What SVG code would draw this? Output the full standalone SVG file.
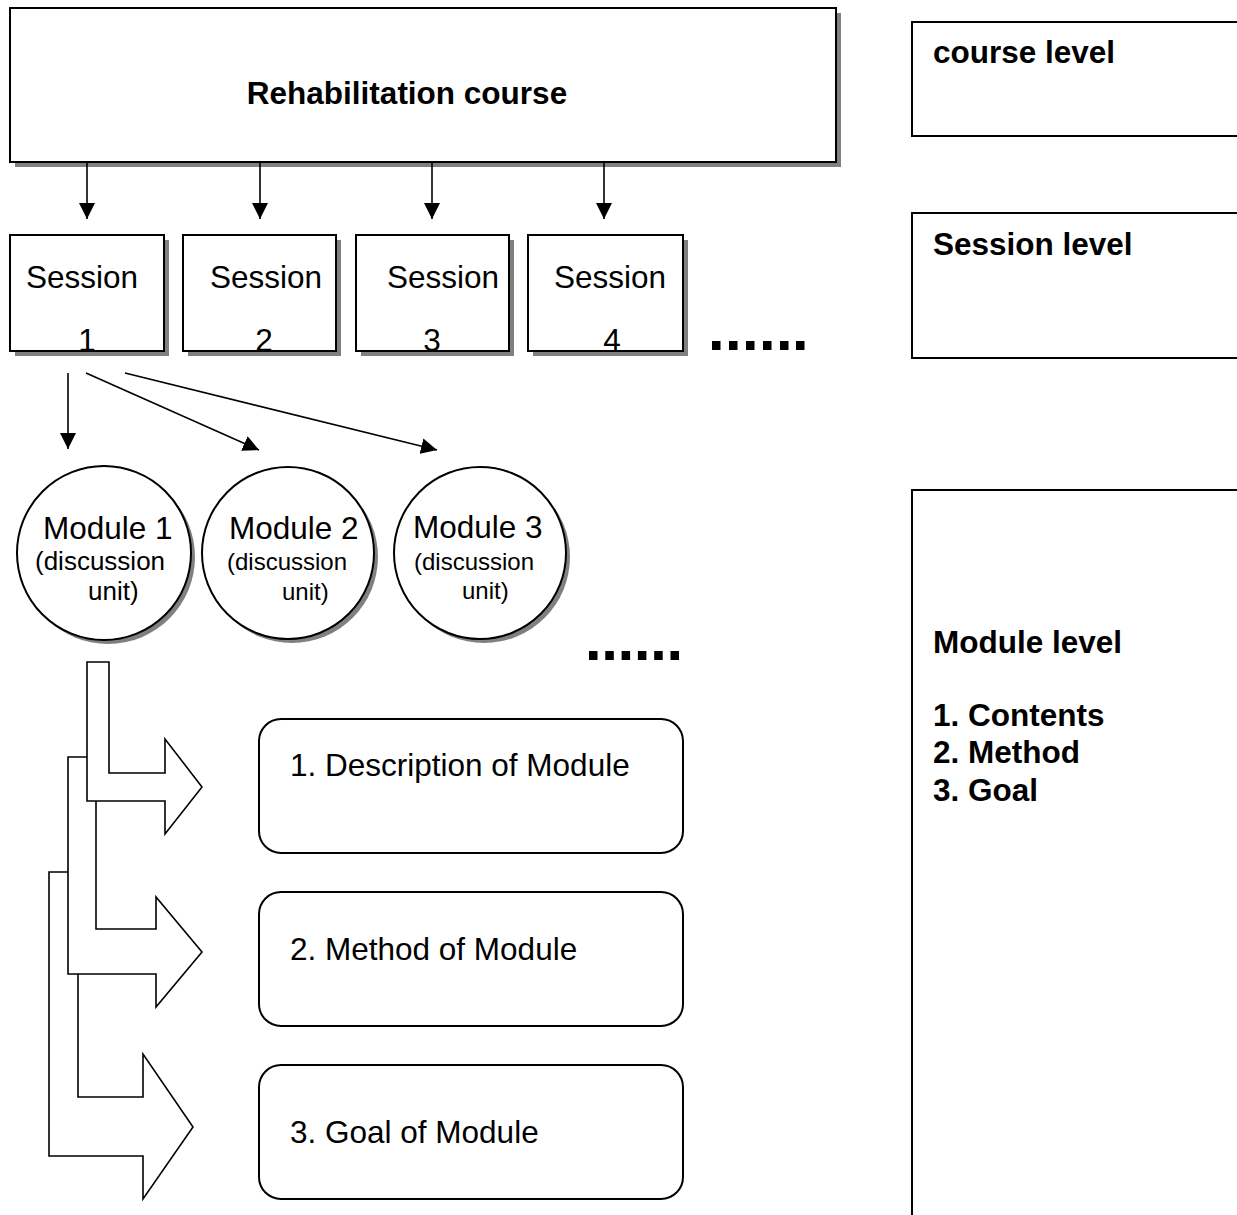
<svg xmlns="http://www.w3.org/2000/svg" width="1237" height="1215" viewBox="0 0 1237 1215">
<style>
.box{fill:#fff;stroke:#000;stroke-width:2}
.shadow{fill:#808080;stroke:none}
.conn{stroke:#000;stroke-width:1.6;fill:none}
.blk{fill:#fff;stroke:#000;stroke-width:1.6;stroke-linejoin:miter}
.t{font-family:"Liberation Sans",Arial,sans-serif;font-size:31.5px;fill:#000}
.b{font-weight:bold}
.s{font-size:24px}
.dot{fill:#000}
</style>
<defs>
<marker id="ah" markerUnits="userSpaceOnUse" markerWidth="16" markerHeight="16" viewBox="0 0 16 16" refX="16" refY="8" orient="auto">
<path d="M0,0 L16,8 L0,16 Z" fill="#000"/>
</marker>
</defs>
<rect width="1237" height="1215" fill="#fff"/>

<g id="course">
<rect class="shadow" x="15" y="13" width="826" height="154"/>
<rect class="box" x="10" y="8" width="826" height="154"/>
<text class="t b" x="407" y="104" text-anchor="middle">Rehabilitation course</text>
</g>

<g id="session1">
<rect class="shadow" x="15" y="240" width="154" height="116"/>
<rect class="box" x="10" y="235" width="154" height="116"/>
<text class="t" x="26" y="288">Session</text>
<text class="t" x="87" y="351" text-anchor="middle">1</text>
</g>
<g id="session2">
<rect class="shadow" x="188" y="240" width="153" height="116"/>
<rect class="box" x="183" y="235" width="153" height="116"/>
<text class="t" x="210" y="288">Session</text>
<text class="t" x="264" y="351" text-anchor="middle">2</text>
</g>
<g id="session3">
<rect class="shadow" x="361" y="240" width="153" height="116"/>
<rect class="box" x="356" y="235" width="153" height="116"/>
<text class="t" x="387" y="288">Session</text>
<text class="t" x="432" y="351" text-anchor="middle">3</text>
</g>
<g id="session4">
<rect class="shadow" x="533" y="240" width="155" height="116"/>
<rect class="box" x="528" y="235" width="155" height="116"/>
<text class="t" x="554" y="288">Session</text>
<text class="t" x="612" y="351" text-anchor="middle">4</text>
</g>

<g id="dots1">
<rect class="dot" x="712" y="341" width="8.5" height="9"/>
<rect class="dot" x="729" y="341" width="8.5" height="9"/>
<rect class="dot" x="746" y="341" width="8.5" height="9"/>
<rect class="dot" x="763" y="341" width="8.5" height="9"/>
<rect class="dot" x="780" y="341" width="8.5" height="9"/>
<rect class="dot" x="796" y="341" width="8.5" height="9"/>
</g>

<g id="module1">
<circle class="shadow" cx="108" cy="557" r="87"/>
<circle class="box" cx="104" cy="553" r="87"/>
<text class="t" x="43" y="539">Module 1</text>
<text class="t" x="35" y="570" style="font-size:26px">(discussion</text>
<text class="t" x="88" y="600" style="font-size:26px">unit)</text>
</g>
<g id="module2">
<circle class="shadow" cx="292" cy="557" r="86"/>
<circle class="box" cx="288" cy="553" r="86"/>
<text class="t" x="229" y="539">Module 2</text>
<text class="t s" x="227" y="570">(discussion</text>
<text class="t s" x="282" y="600">unit)</text>
</g>
<g id="module3">
<circle class="shadow" cx="484" cy="557" r="86"/>
<circle class="box" cx="480" cy="553" r="86"/>
<text class="t" x="413" y="538">Module 3</text>
<text class="t s" x="414" y="570">(discussion</text>
<text class="t s" x="462" y="599">unit)</text>
</g>

<g id="dots2">
<rect class="dot" x="589" y="651" width="8.5" height="9"/>
<rect class="dot" x="605.3" y="651" width="8.5" height="9"/>
<rect class="dot" x="621.6" y="651" width="8.5" height="9"/>
<rect class="dot" x="637.9" y="651" width="8.5" height="9"/>
<rect class="dot" x="654.2" y="651" width="8.5" height="9"/>
<rect class="dot" x="670.5" y="651" width="8.5" height="9"/>
</g>

<g id="desc">
<rect class="box" x="259" y="719" width="424" height="134" rx="22" ry="22"/>
<text class="t" x="290" y="776">1. Description of Module</text>
</g>
<g id="method">
<rect class="box" x="259" y="892" width="424" height="134" rx="22" ry="22"/>
<text class="t" x="290" y="960">2. Method of Module</text>
</g>
<g id="goal">
<rect class="box" x="259" y="1065" width="424" height="134" rx="22" ry="22"/>
<text class="t" x="290" y="1143">3. Goal of Module</text>
</g>

<g id="courseLevel">
<rect class="box" x="912" y="22" width="400" height="114"/>
<text class="t b" x="933" y="63">course level</text>
</g>
<g id="sessionLevel">
<rect class="box" x="912" y="213" width="400" height="145"/>
<text class="t b" x="933" y="255">Session level</text>
</g>
<g id="moduleLevel">
<rect class="box" x="912" y="490" width="400" height="800"/>
<text class="t b" x="933" y="653">Module level</text>
<text class="t b" x="933" y="726">1. Contents</text>
<text class="t b" x="933" y="763">2. Method</text>
<text class="t b" x="933" y="801">3. Goal</text>
</g>

<g id="connectors">
<line class="conn" x1="87" y1="162" x2="87" y2="219" marker-end="url(#ah)"/>
<line class="conn" x1="260" y1="162" x2="260" y2="219" marker-end="url(#ah)"/>
<line class="conn" x1="432" y1="162" x2="432" y2="219" marker-end="url(#ah)"/>
<line class="conn" x1="604" y1="162" x2="604" y2="219" marker-end="url(#ah)"/>
<line class="conn" x1="68" y1="373" x2="68" y2="449" marker-end="url(#ah)"/>
<line class="conn" x1="86" y1="373" x2="259" y2="450" marker-end="url(#ah)"/>
<line class="conn" x1="125" y1="373" x2="437" y2="450" marker-end="url(#ah)"/>
<polygon class="blk" points="49,872 78,872 78,1097 143,1097 143,1054 193,1127 143,1199 143,1156 49,1156"/>
<polygon class="blk" points="68,757 96,757 96,929 156,929 156,897 202,952 156,1007 156,974 68,974"/>
<polygon class="blk" points="87,662 109,662 109,773 165,773 165,739 202,787 165,834 165,801 87,801"/>
</g>
</svg>
